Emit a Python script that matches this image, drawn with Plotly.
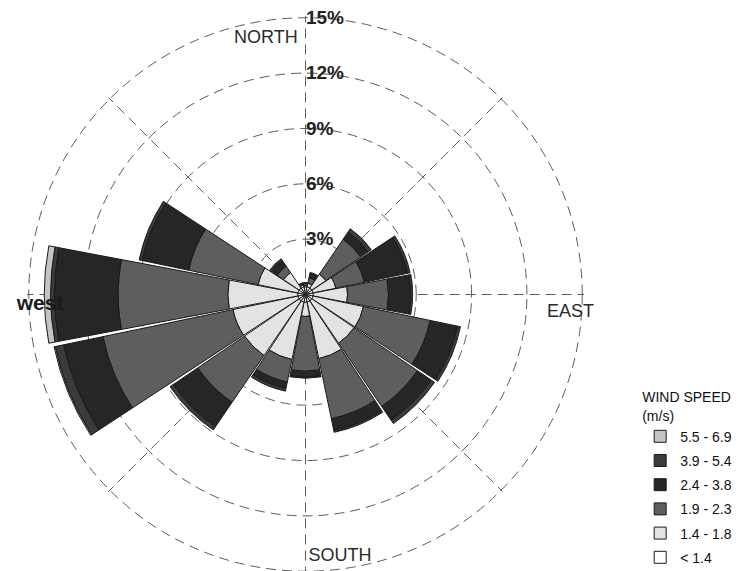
import plotly.graph_objects as go

# ---------------- data ----------------
directions = ["N", "NNE", "NE", "ENE", "E", "ESE", "SE", "SSE",
              "S", "SSW", "SW", "WSW", "W", "WNW", "NW", "NNW"]
direction_deg = [0, 22.5, 45, 67.5, 90, 112.5, 135, 157.5,
                 180, 202.5, 225, 247.5, 270, 292.5, 315, 337.5]

speed_bins = ["< 1.4", "1.4 - 1.8", "1.9 - 2.3", "2.4 - 3.8", "3.9 - 5.4", "5.5 - 6.9"]

# frequency (%) per direction for each speed class (stacked outward)
freq_lt_1_4 = [0.42, 0.42, 0.42, 0.42, 0.42, 0.42, 0.42, 0.42,
               0.42, 0.42, 0.42, 0.42, 0.42, 0.42, 0.42, 0.42]
freq_1_4_1_8 = [0.08, 0.20, 0.91, 1.26, 1.86, 2.79, 2.77, 3.13,
                0.77, 3.18, 3.58, 3.60, 3.79, 2.21, 1.02, 0.10]
freq_1_9_2_3 = [0.10, 0.30, 2.29, 1.58, 2.22, 3.69, 4.15, 3.33,
                2.97, 1.25, 3.07, 7.20, 5.95, 3.84, 0.42, 0.08]
freq_2_4_3_8 = [0.05, 0.25, 0.48, 2.39, 1.20, 1.52, 0.90, 0.65,
                0.33, 0.35, 1.60, 2.17, 3.45, 2.58, 0.37, 0.05]
freq_3_9_5_4 = [0.00, 0.05, 0.21, 0.14, 0.11, 0.16, 0.22, 0.10,
                0.05, 0.15, 0.21, 0.47, 0.21, 0.16, 0.11, 0.00]
freq_5_5_6_9 = [0.00, 0.00, 0.00, 0.00, 0.00, 0.00, 0.00, 0.00,
                0.00, 0.00, 0.00, 0.06, 0.34, 0.00, 0.00, 0.00]

radial_ticks = [3, 6, 9, 12, 15]
radial_ticktext = ["3%", "6%", "9%", "12%", "15%"]

compass_labels = ["NORTH", "EAST", "SOUTH", "west"]

# ---------------- styling ----------------
series = [freq_lt_1_4, freq_1_4_1_8, freq_1_9_2_3, freq_2_4_3_8, freq_3_9_5_4, freq_5_5_6_9]
colors = ["#ffffff", "#e3e3e3", "#5e5e5e", "#262626", "#3b3b3b", "#c4c4c4"]

fig = go.Figure()
for i, (name, vals, col) in enumerate(zip(speed_bins, series, colors)):
    fig.add_trace(go.Barpolar(
        r=vals, theta=direction_deg, name=name, legendgroup=name,
        legendrank=100 - 10 * i,
        width=21.5,
        marker=dict(color=col, line=dict(color="#1a1a1a", width=1)),
        hoverinfo="name+r+theta",
    ))

# compass words placed inside the plot, as in the original
label_r = [14.05, 14.4, 14.3, 14.4]
label_theta = [351.2, 93.9, 172.5, 267.85]
fig.add_trace(go.Scatterpolar(
    r=label_r[:3], theta=label_theta[:3], text=compass_labels[:3], mode="text",
    textfont=dict(family="Liberation Sans, Arial, sans-serif", size=18, color="#2a2a2a"),
    showlegend=False, hoverinfo="skip",
))
fig.add_trace(go.Scatterpolar(
    r=label_r[3:], theta=label_theta[3:], text=compass_labels[3:], mode="text",
    textfont=dict(family="Liberation Sans, Arial, sans-serif", size=21, color="#1a1a1a", weight="bold"),
    showlegend=False, hoverinfo="skip",
))

W, H = 742, 571
OFF = 8                       # default page margin of the html body
cx, cy = 305.5 - OFF, 294.5 - OFF
r_max = 15.1
px_per_pct = 18.45
rad = r_max * px_per_pct

fig.update_layout(
    width=W, height=H,
    margin=dict(l=0, r=0, t=0, b=0),
    paper_bgcolor="white",
    font=dict(family="Liberation Sans, Arial, sans-serif", color="#1a1a1a"),
    polar=dict(
        domain=dict(x=[(cx - rad) / W, (cx + rad) / W],
                    y=[(H - cy - rad) / H, (H - cy + rad) / H]),
        bgcolor="white",
        barmode="stack",
        radialaxis=dict(
            range=[0, r_max], tickmode="array", tickvals=radial_ticks, ticktext=radial_ticktext,
            angle=90, tickangle=90, side="clockwise",
            showline=False, ticks="",
            tickfont=dict(size=19, color="#222222", weight="bold"),
            gridcolor="#5c5c5c", griddash="10px,6px", gridwidth=1.3,
            layer="below traces",
        ),
        angularaxis=dict(
            rotation=90, direction="clockwise",
            tickmode="array", tickvals=[0, 45, 90, 135, 180, 225, 270, 315],
            showticklabels=False, ticks="", showline=False,
            gridcolor="#5c5c5c", griddash="10px,6px", gridwidth=1.3,
            layer="below traces",
        ),
    ),
    showlegend=True,
    legend=dict(
        title=dict(text="WIND SPEED<br>(m/s)", font=dict(size=14, color="#111111")),
        traceorder="grouped", tracegroupgap=3,
        x=0.852, xanchor="left", y=0.341, yanchor="top",
        font=dict(size=14, color="#111111"),
        bgcolor="rgba(0,0,0,0)", itemwidth=30,
    ),
)

fig.write_html("out.html")
